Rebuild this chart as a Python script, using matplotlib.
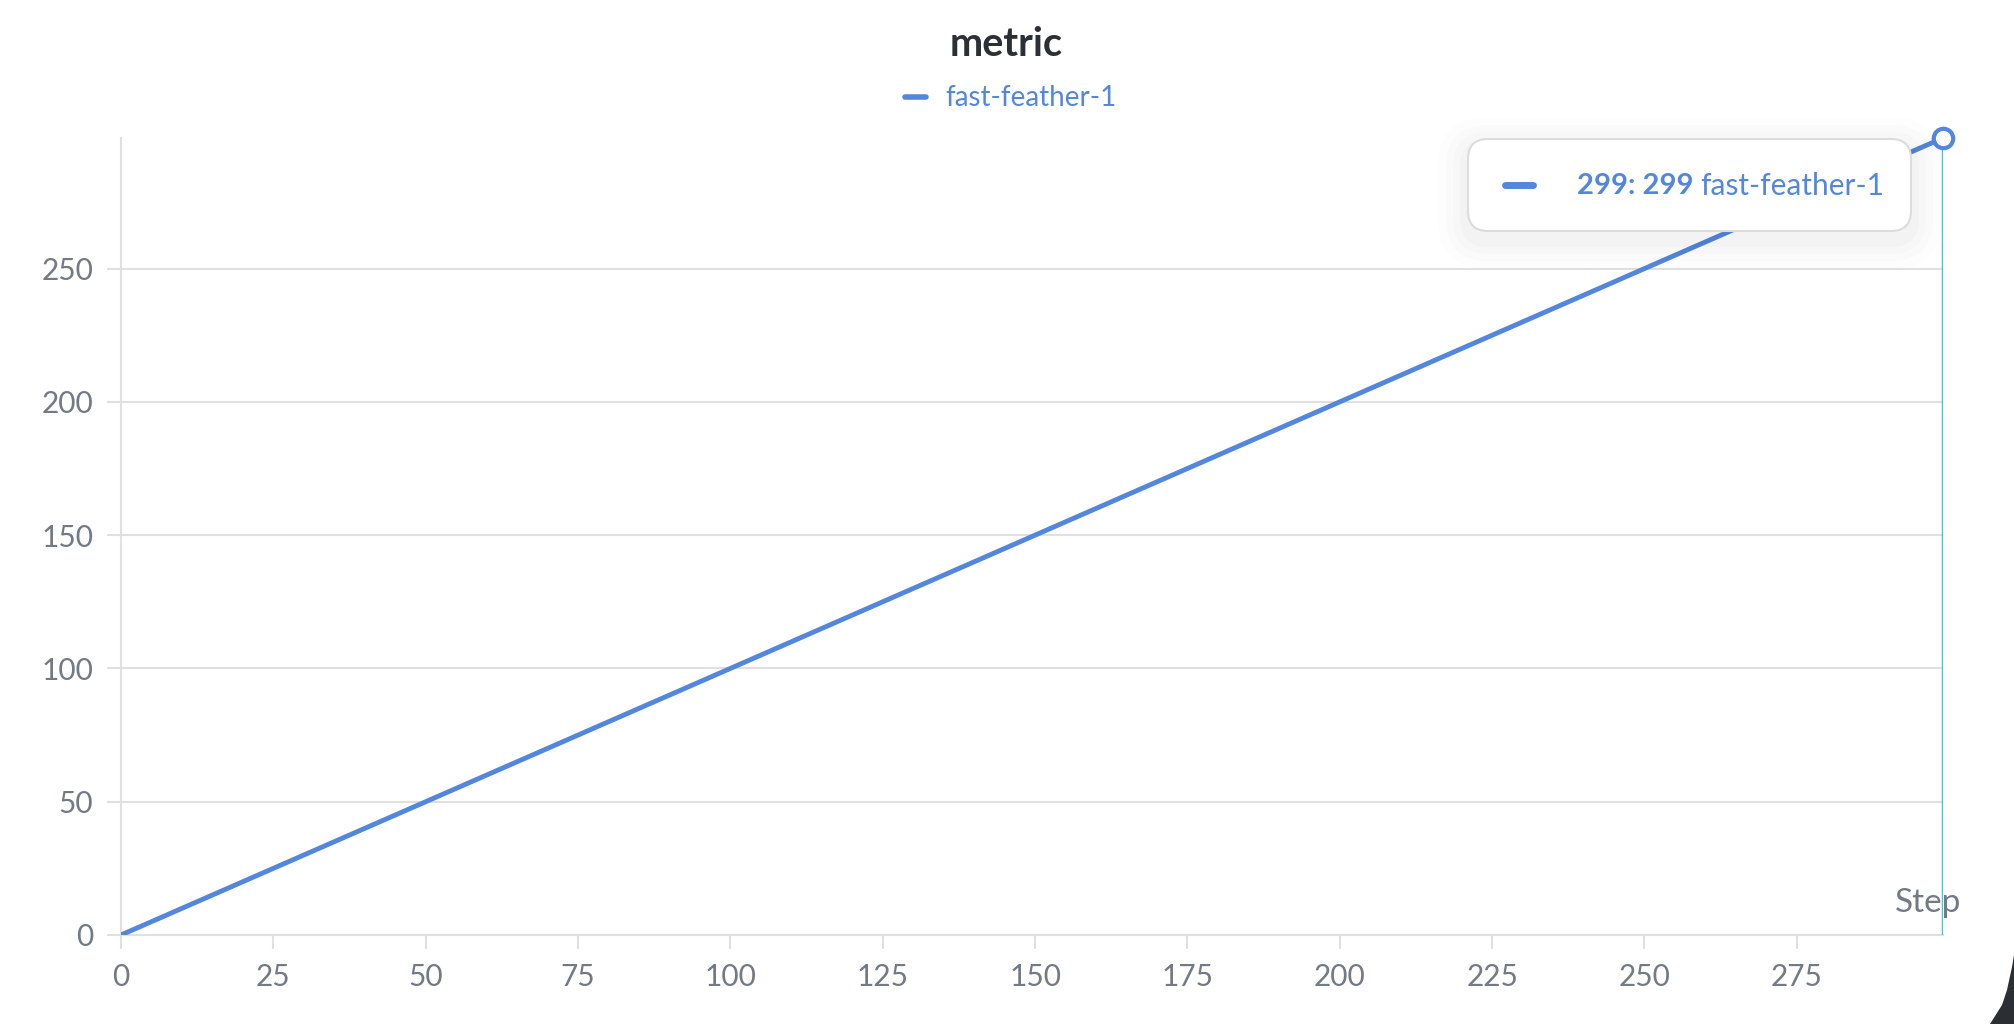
import matplotlib

matplotlib.use("Agg")
import matplotlib.pyplot as plt
from matplotlib.patches import FancyBboxPatch, Polygon

# 読み取った値 (step = value の直線)
steps = [0, 25, 50, 75, 100, 125, 150, 175, 200, 225, 250, 275, 299]
values = [0, 25, 50, 75, 100, 125, 150, 175, 200, 225, 250, 275, 299]
x_ticks = [0, 25, 50, 75, 100, 125, 150, 175, 200, 225, 250, 275]
y_ticks = [0, 50, 100, 150, 200, 250]
run_name = "fast-feather-1"
title = "metric"

W, H = 2014, 1024
BLUE = "#5387dd"
CYAN = "#36cdd8"
GRAY = "#737a86"
GRID = "#e0e0e0"

plt.rcParams["font.family"] = ["Lato", "DejaVu Sans"]

fig = plt.figure(figsize=(W / 100, H / 100), dpi=100)


def fx(px):
    return px / W


def fy(py):
    return 1 - py / H


ax = fig.add_axes([fx(121), fy(935), fx(1943) - fx(121), fy(138) - fy(935)])
ax.plot(steps, values, color=BLUE, linewidth=3.5, solid_capstyle="round", zorder=3)
ax.axvline(steps[-1], color=CYAN, linewidth=2.5, zorder=4)
ax.plot(steps[-1], values[-1], "o", ms=14, mfc="white", mec=BLUE, mew=3,
        zorder=5, clip_on=False)

ax.set_xlim(0, 299)
ax.set_ylim(0, 299)
ax.set_xticks(x_ticks)
ax.set_yticks(y_ticks)
ax.grid(axis="y", color=GRID, linewidth=1.5)
ax.set_axisbelow(True)
for side in ["top", "right"]:
    ax.spines[side].set_visible(False)
for side in ["left", "bottom"]:
    ax.spines[side].set_color(GRID)
    ax.spines[side].set_linewidth(1.5)
ax.tick_params(axis="x", colors=GRID, labelcolor=GRAY, labelsize=21.5,
               length=10, width=1.5, pad=10)
ax.tick_params(axis="y", colors=GRID, labelcolor=GRAY, labelsize=21.5,
               length=10, width=1.5, pad=10)
fig.text(fx(1961), fy(903), "Step", fontsize=24, color=GRAY,
         ha="right", va="center")

# タイトルと凡例
fig.text(fx(1006), fy(45), title, fontsize=28.5, fontweight="bold",
         color="#2b2f36", ha="center", va="center")
fig.add_artist(plt.Line2D([fx(905), fx(926)], [fy(97), fy(97)], color=BLUE,
                          linewidth=4, solid_capstyle="round"))
fig.text(fx(945), fy(98), run_name, fontsize=20, color=BLUE, ha="left",
         va="center")

# ツールチップ (薄い影付き)
bx0, by0, bx1, by1 = 1468, 139, 1911, 231
for grow, a in [(30, 0.008), (22, 0.01), (15, 0.012), (8, 0.015)]:
    fig.patches.append(FancyBboxPatch(
        (fx(bx0 - grow), fy(by1 + grow + 8)),
        fx(bx1 - bx0 + 2 * grow), (by1 - by0 + 2 * grow) / H,
        boxstyle=f"round,pad=0,rounding_size={fx(20 + grow)}",
        transform=fig.transFigure, facecolor="black", edgecolor="none",
        alpha=a, mutation_aspect=W / H))
fig.patches.append(FancyBboxPatch(
    (fx(bx0), fy(by1)), fx(bx1 - bx0), (by1 - by0) / H,
    boxstyle=f"round,pad=0,rounding_size={fx(20)}",
    transform=fig.transFigure, facecolor="white", edgecolor="#dcdcdc",
    linewidth=1.5, mutation_aspect=W / H))
fig.add_artist(plt.Line2D([fx(1505), fx(1533)], [fy(185), fy(185)], color=BLUE,
                          linewidth=5, solid_capstyle="round"))
head = fig.text(fx(1577), fy(186), f"{steps[-1]}: {values[-1]}", fontsize=21,
                fontweight="bold", color=BLUE, ha="left", va="center")
fig.add_artist(matplotlib.text.Annotation(
    run_name, xy=(1, 0.5), xycoords=head, xytext=(5, 0),
    textcoords="offset points", fontsize=21.5, color=BLUE,
    ha="left", va="center"))

# 右下の角 (スクリーンショットの背景)
fig.patches.append(Polygon(
    [(fx(2014), fy(955)), (fx(2012), fy(967)), (fx(2007), fy(990)),
     (fx(2002), fy(1005)), (fx(1990), fy(1024)), (fx(2014), fy(1024))],
    closed=True, transform=fig.transFigure, facecolor="#2b2f33",
    edgecolor="none"))

fig.savefig("out.png", dpi=100)
